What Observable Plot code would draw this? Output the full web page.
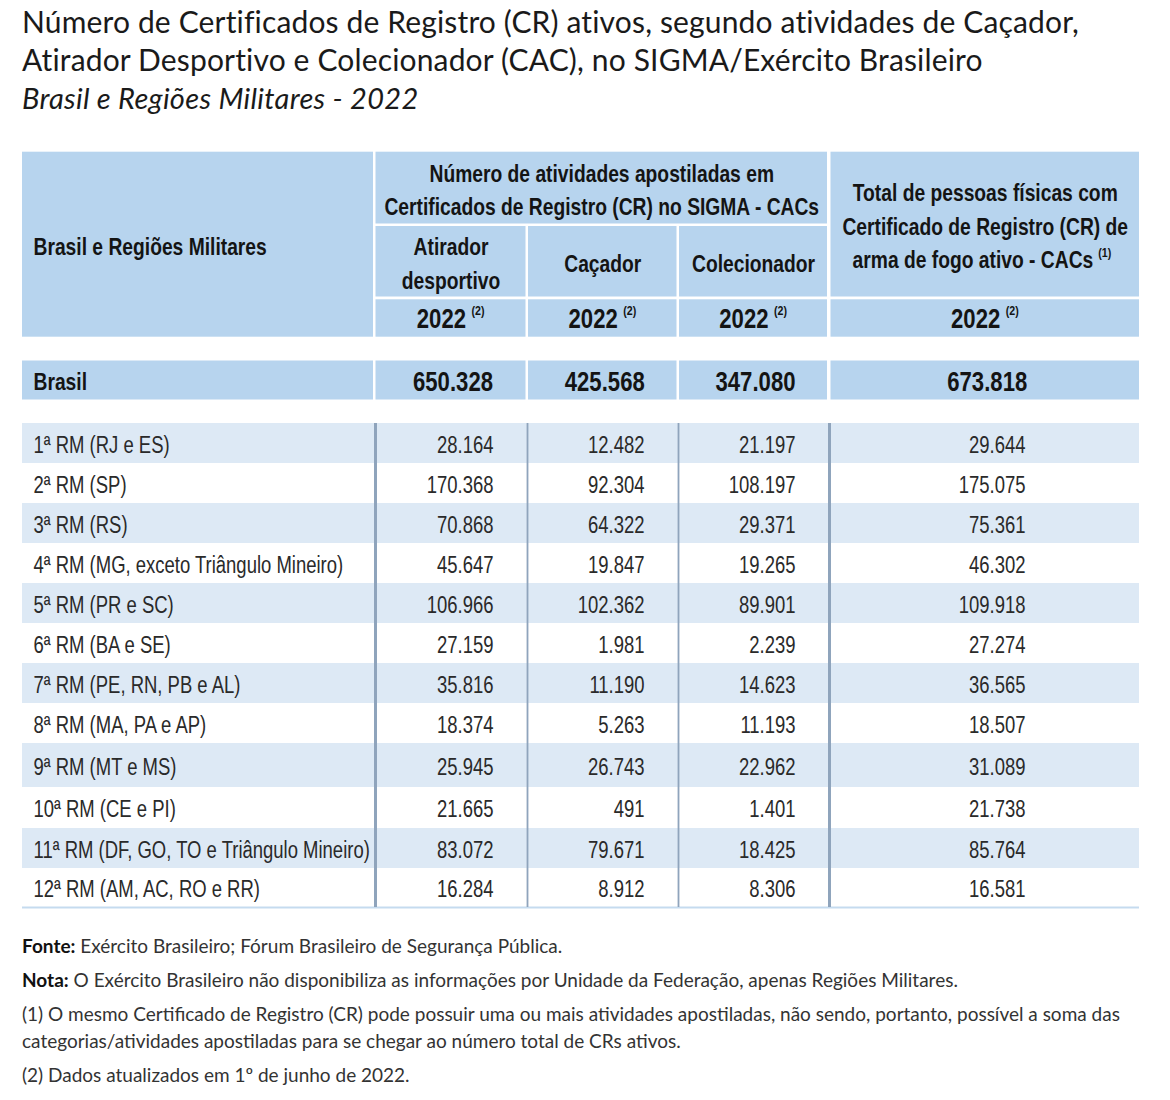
<!DOCTYPE html>
<html>
<head>
<meta charset="utf-8">
<script src="https://cdn.jsdelivr.net/npm/d3@7"></script>
<script src="https://cdn.jsdelivr.net/npm/@observablehq/plot@0.6"></script>
<style>
  html, body { margin: 0; padding: 0; background: #ffffff; }
  #page { position: relative; width: 1170px; height: 1100px; overflow: hidden; }
  #title { position: absolute; left: 22px; top: 2px; font-family: Lato, "Open Sans", sans-serif; color: #1a1a1a; }
  #title .t { font-size: 30px; line-height: 38px; letter-spacing: 0.15px; }
  #title .s { font-size: 29px; line-height: 40px; font-style: italic; letter-spacing: 0.3px; }
  #chart { position: absolute; left: 0; top: 140px; }
  #foot { position: absolute; left: 22px; top: 932px; width: 1140px; font-family: Lato, "Open Sans", sans-serif; font-size: 19px; color: #333; }
  #foot p { margin: 0 0 7px 0; line-height: 27px; }
  #foot b { color: #111; }
</style>
</head>
<body>
<div id="page">
  <div id="title">
    <div class="t">Número de Certificados de Registro (CR) ativos, segundo atividades de Caçador,<br>Atirador Desportivo e Colecionador (CAC), no SIGMA/Exército Brasileiro</div>
    <div class="s">Brasil e Regiões Militares - 2022</div>
  </div>
  <div id="chart"></div>
  <div id="foot">
    <p><b>Fonte:</b> Exército Brasileiro; Fórum Brasileiro de Segurança Pública.</p>
    <p><b>Nota:</b> O Exército Brasileiro não disponibiliza as informações por Unidade da Federação, apenas Regiões Militares.</p>
    <p>(1) O mesmo Certificado de Registro (CR) pode possuir uma ou mais atividades apostiladas, não sendo, portanto, possível a soma das<br>categorias/atividades apostiladas para se chegar ao número total de CRs ativos.</p>
    <p>(2) Dados atualizados em 1º de junho de 2022.</p>
  </div>
</div>
<script>
// ---------- DATA ----------
const regioes = [
  "1ª RM (RJ e ES)",
  "2ª RM (SP)",
  "3ª RM (RS)",
  "4ª RM (MG, exceto Triângulo Mineiro)",
  "5ª RM (PR e SC)",
  "6ª RM (BA e SE)",
  "7ª RM (PE, RN, PB e AL)",
  "8ª RM (MA, PA e AP)",
  "9ª RM (MT e MS)",
  "10ª RM (CE e PI)",
  "11ª RM (DF, GO, TO e Triângulo Mineiro)",
  "12ª RM (AM, AC, RO e RR)"
];
const atirador     = [28164, 170368, 70868, 45647, 106966, 27159, 35816, 18374, 25945, 21665, 83072, 16284];
const cacador      = [12482, 92304, 64322, 19847, 102362, 1981, 11190, 5263, 26743, 491, 79671, 8912];
const colecionador = [21197, 108197, 29371, 19265, 89901, 2239, 14623, 11193, 22962, 1401, 18425, 8306];
const totalCR      = [29644, 175075, 75361, 46302, 109918, 27274, 36565, 18507, 31089, 21738, 85764, 16581];

const brasilLabel = "Brasil";
const brasilValores = [650328, 425568, 347080, 673818];

const cabecalhoRegiao = "Brasil e Regiões Militares";
const cabecalhoGrupo = ["Número de atividades apostiladas em", "Certificados de Registro (CR) no SIGMA - CACs"];
const cabecalhoAtividades = [["Atirador", "desportivo"], ["Caçador"], ["Colecionador"]];
const cabecalhoTotal = ["Total de pessoas físicas com", "Certificado de Registro (CR) de", "arma de fogo ativo - CACs"];
const notaTotal = "(1)";
const anoLabel = "2022";
const notaAno = "(2)";

// ---------- LAYOUT (table geometry, page pixels) ----------
const TOP = 140, H = 780, W = 1170;
const cols = [
  {x0: 22, x1: 373},
  {x0: 375.5, x1: 525.5},
  {x0: 528, x1: 676.5},
  {x0: 679, x1: 827},
  {x0: 830.5, x1: 1139}
];
const center = c => (cols[c].x0 + cols[c].x1) / 2;
const numRight = [null, 493, 644, 795, 1025];
const hdr = {top: 151.7, grpBottom: 223.5, nameTop: 226, nameBottom: 296.5, yearTop: 299.3, bottom: 336.7};
const brasilRow = {y0: 360.5, y1: 399.5};
const rowEdges = [423, 463, 503, 543, 583, 623, 663, 703, 743, 787, 828, 868, 907];
const dividers = [{x: 375, w: 3}, {x: 527, w: 1.8}, {x: 678, w: 1.8}, {x: 829, w: 3}];

const HEADER_FILL = "#b7d4ee";
const STRIPE_FILL = "#dde9f5";
const DIV_COLOR = "#8fa4bc";
const FONT = "'Liberation Sans', Arial, sans-serif";
const NARROW_BOLD = 0.82;    // horizontal squeeze to mimic the condensed typeface
const NARROW_REGULAR = 0.77;

const fmt = d3.formatLocale({decimal: ",", thousands: ".", grouping: [3], currency: ["R$ ", ""]}).format(",d");

// ---------- build cell tables ----------
const headerRects = [
  {x1: cols[0].x0, x2: cols[0].x1, y1: hdr.top, y2: hdr.bottom},
  {x1: cols[1].x0, x2: cols[3].x1, y1: hdr.top, y2: hdr.grpBottom},
  ...[1, 2, 3].map(c => ({x1: cols[c].x0, x2: cols[c].x1, y1: hdr.nameTop, y2: hdr.nameBottom})),
  ...[1, 2, 3, 4].map(c => ({x1: cols[c].x0, x2: cols[c].x1, y1: hdr.yearTop, y2: hdr.bottom})),
  {x1: cols[4].x0, x2: cols[4].x1, y1: hdr.top, y2: hdr.nameBottom}
];
const brasilRects = cols.map(c => ({x1: c.x0, x2: c.x1, y1: brasilRow.y0, y2: brasilRow.y1}));

const rows = regioes.map((r, i) => ({
  regiao: r,
  i,
  y0: rowEdges[i],
  y1: rowEdges[i + 1],
  yc: (rowEdges[i] + rowEdges[i + 1]) / 2 + 1.5,
  vals: [atirador[i], cacador[i], colecionador[i], totalCR[i]]
}));
const stripes = rows.filter(r => r.i % 2 === 0);

const numCells = rows.flatMap(r => r.vals.map((v, k) => ({x: numRight[k + 1], y: r.yc, t: fmt(v)})));

const grpCenter = (cols[1].x0 + cols[3].x1) / 2;
const boldTexts = [
  {x: 33, y: 247, t: cabecalhoRegiao, a: "start"},
  {x: grpCenter, y: 174, t: cabecalhoGrupo[0], a: "middle"},
  {x: grpCenter, y: 207, t: cabecalhoGrupo[1], a: "middle"},
  ...cabecalhoAtividades.flatMap((lines, k) => lines.map((l, j) => ({
    x: center(k + 1), y: 264 + (j - (lines.length - 1) / 2) * 34, t: l, a: "middle"
  }))),
  {x: center(4), y: 193, t: cabecalhoTotal[0], a: "middle"},
  {x: center(4), y: 227, t: cabecalhoTotal[1], a: "middle"},
  {x: center(4) + 108, y: 260, t: cabecalhoTotal[2], a: "end"},
  {x: 33, y: 382, t: brasilLabel, a: "start"}
];
const bigNumbers = [
  ...[1, 2, 3, 4].map(c => ({x: center(c) + 15, y: 319, t: anoLabel, a: "end"})),
  ...brasilValores.map((v, k) => ({x: center(k + 1) + 2, y: 382, t: fmt(v), a: "middle"}))
];

const supTexts = [
  ...[1, 2, 3, 4].map(c => ({x: center(c) + 20.5, y: 310, t: notaAno})),
  {x: center(4) + 113, y: 252, t: notaTotal}
];

const boldMark = (data, anchor, size) => Plot.text(data.filter(d => d.a === anchor), {
  x: "x", y: "y", text: "t", textAnchor: anchor, lineAnchor: "middle",
  fontFamily: FONT, fontSize: size, fontWeight: "bold", fill: "#141414"
});

// ---------- PLOT ----------
const chart = Plot.plot({
  width: W,
  height: H,
  margin: 0,
  x: {domain: [0, W], range: [0, W], axis: null},
  y: {domain: [TOP, TOP + H], range: [0, H], axis: null},
  style: {fontFamily: FONT, background: "transparent"},
  marks: [
    Plot.rect(headerRects, {x1: "x1", x2: "x2", y1: "y1", y2: "y2", fill: HEADER_FILL}),
    Plot.rect(brasilRects, {x1: "x1", x2: "x2", y1: "y1", y2: "y2", fill: HEADER_FILL}),
    Plot.rect(stripes, {x1: cols[0].x0, x2: cols[4].x1, y1: "y0", y2: "y1", fill: STRIPE_FILL}),
    Plot.ruleY([rowEdges[rowEdges.length - 1]], {x1: cols[0].x0, x2: cols[4].x1, stroke: "#c5dbef", strokeWidth: 2}),
    ...dividers.map(d => Plot.ruleX([d.x], {y1: rowEdges[0], y2: rowEdges[rowEdges.length - 1], stroke: DIV_COLOR, strokeWidth: d.w})),
    Plot.text(rows, {x: 33, y: "yc", text: "regiao", textAnchor: "start", lineAnchor: "middle",
      fontFamily: FONT, fontSize: 24, fill: "#2a2a2a"}),
    Plot.text(numCells, {x: "x", y: "y", text: "t", textAnchor: "end", lineAnchor: "middle",
      fontFamily: FONT, fontSize: 24, fill: "#2a2a2a"}),
    boldMark(boldTexts, "start", 23.5),
    boldMark(boldTexts, "middle", 23.5),
    boldMark(boldTexts, "end", 23.5),
    boldMark(bigNumbers, "middle", 27),
    boldMark(bigNumbers, "end", 27),
    Plot.text(supTexts, {x: "x", y: "y", text: "t", textAnchor: "start", lineAnchor: "middle",
      fontFamily: FONT, fontSize: 13, fontWeight: "bold", fill: "#141414"})
  ]
});
document.getElementById("chart").appendChild(chart);

// squeeze glyphs horizontally about each text's anchor point, imitating the condensed typeface
d3.select(chart).selectAll("text").each(function () {
  const bb = this.getBBox();
  if (!bb.width) return;
  const cs = getComputedStyle(this);
  const k = +cs.fontWeight >= 600 ? NARROW_BOLD : NARROW_REGULAR;
  const anchor = cs.textAnchor;
  const ax = anchor === "middle" ? bb.x + bb.width / 2 : anchor === "end" ? bb.x + bb.width : bb.x;
  const t = this.getAttribute("transform") || "";
  this.setAttribute("transform",
    `${t} translate(${ax.toFixed(2)},0) scale(${k},1) translate(${(-ax).toFixed(2)},0)`.trim());
});
</script>
</body>
</html>
